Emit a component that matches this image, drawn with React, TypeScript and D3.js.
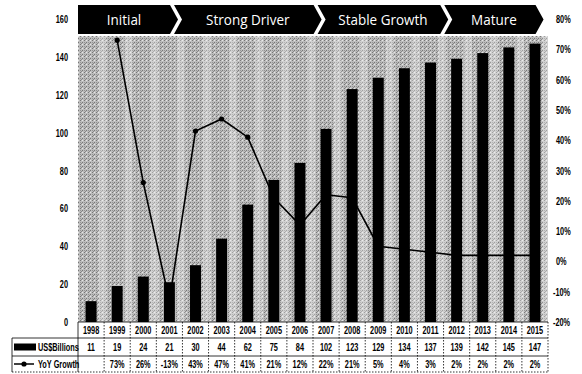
import * as d3 from "d3";

const W = 582;
const H = 374;
const PLOT = { left: 78, right: 548, top: 19, bottom: 322 };

const years = ["1998", "1999", "2000", "2001", "2002", "2003", "2004", "2005", "2006", "2007", "2008", "2009", "2010", "2011", "2012", "2013", "2014", "2015"];
const billions = [11, 19, 24, 21, 30, 44, 62, 75, 84, 102, 123, 129, 134, 137, 139, 142, 145, 147];
const growth = [null, 73, 26, -13, 43, 47, 41, 21, 12, 22, 21, 5, 4, 3, 2, 2, 2, 2];
const leftTicks = [0, 20, 40, 60, 80, 100, 120, 140, 160];
const rightTicks = [-20, -10, 0, 10, 20, 30, 40, 50, 60, 70, 80];
const phases = ["Initial", "Strong Driver", "Stable Growth", "Mature"];
// phase edges in column units
const phaseEdges = [0, 3.6, 9.1, 13.95, 17.6];

const FONT = "'Liberation Sans', Arial, sans-serif";

// narrow bold text (squeezed horizontally)
function NText({ x, y, anchor = "start", size = 10.5, sx = 0.7, children }: any) {
  return (
    <text
      transform={`translate(${x},${y}) scale(${sx},1)`}
      textAnchor={anchor}
      fontFamily={FONT}
      fontWeight="bold"
      fontSize={size}
      fill="#000"
    >
      {children}
    </text>
  );
}

export default function App() {
  const x = d3.scaleBand<string>().domain(years).range([PLOT.left, PLOT.right]).padding(0);
  const bw = x.bandwidth();
  const barW = bw * 0.42;
  const col = d3.scaleLinear().domain([0, years.length]).range([PLOT.left, PLOT.right]);
  const yL = d3.scaleLinear().domain([0, 160]).range([PLOT.bottom, PLOT.top]);
  const yR = d3.scaleLinear().domain([-20, 80]).range([PLOT.bottom, PLOT.top]);

  const pts = years
    .map((yr, i) => ({ yr, v: growth[i] }))
    .filter((d) => d.v !== null) as { yr: string; v: number }[];
  const line = d3
    .line<{ yr: string; v: number }>()
    .x((d) => x(d.yr)! + bw / 2)
    .y((d) => yR(d.v));

  const hTop = 5;
  const hBot = 34;
  const hMid = (hTop + hBot) / 2;
  const tip = 8;

  const rowY = [322, 338, 356, 372];
  const mid = (a: number, b: number) => (a + b) / 2;

  return (
    <svg width={W} height={H} style={{ position: "absolute", left: 0, top: 0, background: "#fff" }}>
      <defs>
        <pattern id="dither" width="4" height="4" patternUnits="userSpaceOnUse">
          <rect width="4" height="4" fill="#bdbdbd" />
          <rect x="0" y="0" width="1" height="1" fill="#777" />
          <rect x="2" y="2" width="1" height="1" fill="#777" />
          <rect x="2" y="0" width="1" height="1" fill="#e6e6e6" />
          <rect x="0" y="2" width="1" height="1" fill="#959595" />
          <rect x="1" y="3" width="1" height="1" fill="#888" />
        </pattern>
      </defs>

      {/* plot background */}
      <rect x={PLOT.left} y={36} width={PLOT.right - PLOT.left} height={PLOT.bottom - 36} fill="url(#dither)" />
      {years.map((yr) => (
        <rect key={yr} x={x(yr)! + bw / 2 + barW / 2 + 2} y={36} width={bw * 0.3} height={PLOT.bottom - 36} fill="#fff" opacity={0.3} />
      ))}

      {/* phase header */}
      {phases.map((p, i) => {
        const x0 = col(phaseEdges[i]) + (i === 0 ? 0 : 2);
        const x1 = col(phaseEdges[i + 1]) - 2;
        const pointsArr = [
          [x0, hTop],
          [x1, hTop],
          [x1 + tip, hMid],
          [x1, hBot],
          [x0, hBot],
        ];
        if (i > 0) pointsArr.push([x0 + tip, hMid]);
        const cx = (x0 + x1) / 2 + (i === 0 ? 0 : 4);
        return (
          <g key={p}>
            <polygon points={pointsArr.map((q) => q.join(",")).join(" ")} fill="#000" />
            <text
              transform={`translate(${cx},${hMid + 5}) scale(0.9,1)`}
              textAnchor="middle"
              fill="#fff"
              fontFamily="'Open Sans', Lato, sans-serif"
              fontSize={15}
            >
              {p}
            </text>
          </g>
        );
      })}

      {/* growth line, behind bars */}
      <path d={line(pts)!} fill="none" stroke="#000" strokeWidth={1.6} />
      {pts.map((d) => (
        <circle key={d.yr} cx={x(d.yr)! + bw / 2} cy={yR(d.v)} r={2.6} fill="#000" />
      ))}

      {/* bars */}
      {years.map((yr, i) => (
        <rect key={yr} x={x(yr)! + (bw - barW) / 2} y={yL(billions[i])} width={barW} height={yL(0) - yL(billions[i])} fill="#000" />
      ))}

      {/* axes labels */}
      {leftTicks.map((t) => (
        <NText key={t} x={68} y={yL(t) + 4} anchor="end">
          {t}
        </NText>
      ))}
      {rightTicks.map((t) => (
        <NText key={t} x={t < 0 ? 553 : 556} y={yR(t) + 4}>
          {t}%
        </NText>
      ))}

      {/* data table */}
      <g>
        {years.map((yr, i) => {
          const cx = x(yr)! + bw / 2;
          return (
            <g key={yr}>
              <NText x={cx} y={mid(rowY[0], rowY[1]) + 4} anchor="middle">{yr}</NText>
              <NText x={cx} y={mid(rowY[1], rowY[2]) + 4} anchor="middle">{billions[i]}</NText>
              {growth[i] !== null && (
                <NText x={cx} y={mid(rowY[2], rowY[3]) + 4} anchor="middle">{growth[i]}%</NText>
              )}
              <line x1={x(yr)! + bw} x2={x(yr)! + bw} y1={rowY[0]} y2={rowY[3]} stroke="#000" strokeWidth={0.8} strokeDasharray="1.5,1.5" />
            </g>
          );
        })}
        <line x1={PLOT.left} x2={PLOT.left} y1={rowY[0]} y2={rowY[3]} stroke="#000" strokeWidth={0.8} />
        <line x1={PLOT.left} x2={PLOT.right} y1={rowY[0]} y2={rowY[0]} stroke="#000" strokeWidth={0.8} />
        <line x1={12} x2={PLOT.right} y1={rowY[1]} y2={rowY[1]} stroke="#000" strokeWidth={0.8} />
        <line x1={12} x2={PLOT.right} y1={rowY[2]} y2={rowY[2]} stroke="#000" strokeWidth={0.8} />
        <line x1={12} x2={PLOT.right} y1={rowY[3]} y2={rowY[3]} stroke="#000" strokeWidth={0.8} strokeDasharray="1.5,1.5" />
        <line x1={12} x2={12} y1={rowY[1]} y2={rowY[3]} stroke="#000" strokeWidth={0.8} />

        <rect x={14} y={mid(rowY[1], rowY[2]) - 3.5} width={22} height={7} fill="#000" />
        <NText x={38} y={mid(rowY[1], rowY[2]) + 4}>US$Billions</NText>
        <line x1={14} x2={34} y1={mid(rowY[2], rowY[3])} y2={mid(rowY[2], rowY[3])} stroke="#000" strokeWidth={1.5} />
        <circle cx={24} cy={mid(rowY[2], rowY[3])} r={2.6} fill="#000" />
        <NText x={38} y={mid(rowY[2], rowY[3]) + 4}>YoY Growth</NText>
      </g>
    </svg>
  );
}
